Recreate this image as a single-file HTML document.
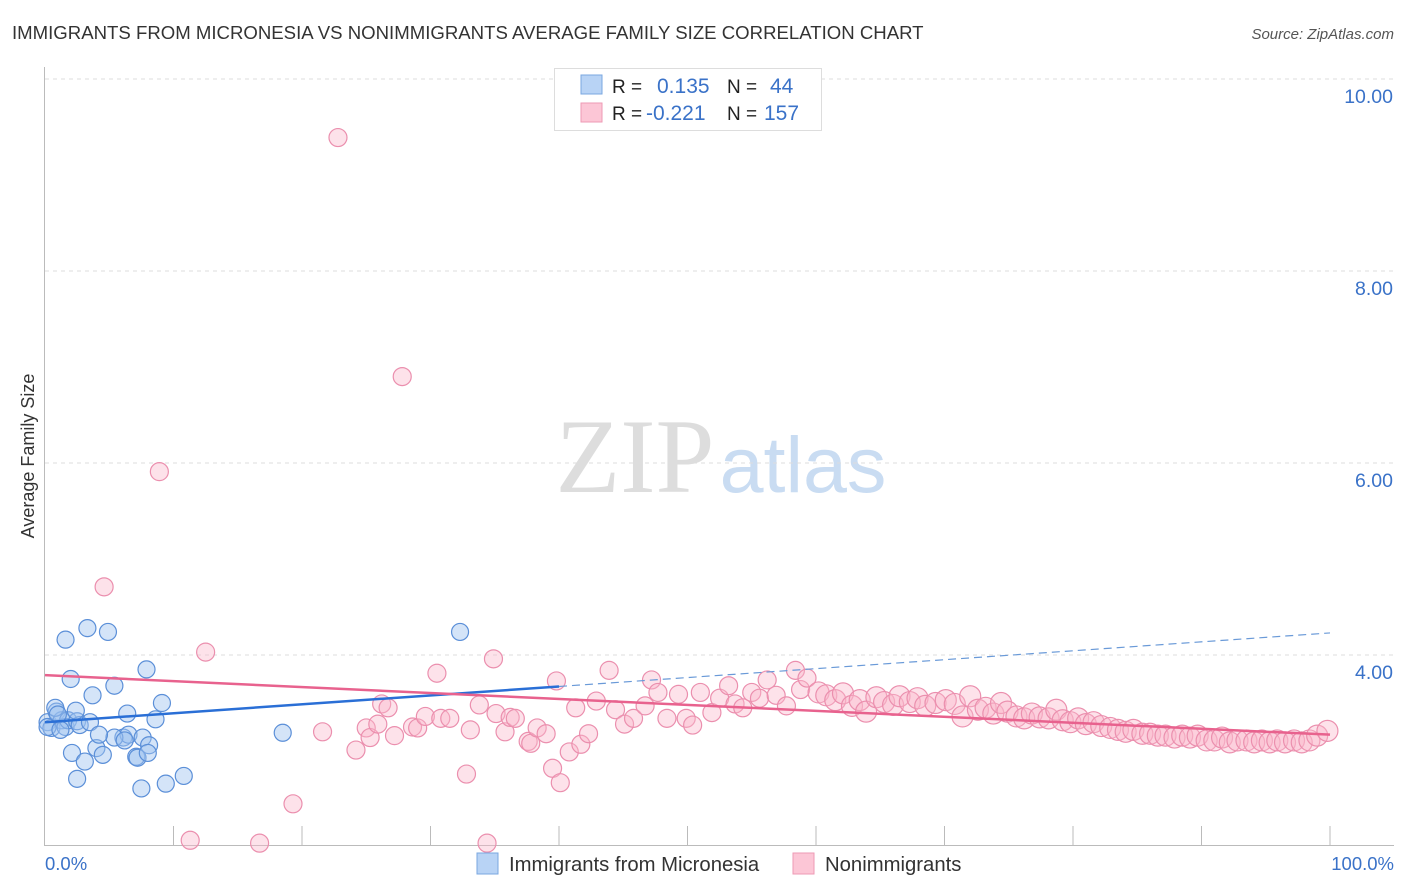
<!DOCTYPE html>
<html><head><meta charset="utf-8"><style>
body{margin:0;background:#fff;font-family:"Liberation Sans",sans-serif;}
svg{display:block}
</style></head><body>
<svg id="chart" width="1406" height="892">
<text x="12" y="39" font-size="18.6" fill="#333">IMMIGRANTS FROM MICRONESIA VS NONIMMIGRANTS AVERAGE FAMILY SIZE CORRELATION CHART</text>
<text x="1394" y="39" font-size="15" fill="#555" font-style="italic" text-anchor="end">Source: ZipAtlas.com</text>
<text x="34" y="456" font-size="18" fill="#333" text-anchor="middle" transform="rotate(-90 34 456)">Average Family Size</text>
<g><text x="635" y="492" font-size="106" fill="#ddd" font-family="Liberation Serif,serif" text-anchor="middle">ZIP</text><text x="803" y="492" font-size="79" fill="#c9dcf2" text-anchor="middle">atlas</text></g>
<g id="grid"></g><g id="axes"></g><g id="pts"></g><g id="lines"></g>
<g>
<rect x="554.5" y="68.5" width="267" height="62" fill="#fff" stroke="#ddd"/>
<rect x="581" y="75" width="21" height="19" fill="#b8d3f5" stroke="#7aa7e0"/>
<rect x="581" y="103" width="21" height="19" fill="#fcc6d6" stroke="#ee9ab4"/>
<text x="612" y="93" font-size="19" fill="#222">R =</text><text x="657" y="93" font-size="21" fill="#3a72c8">0.135</text>
<text x="727" y="93" font-size="19" fill="#222">N =</text><text x="770" y="93" font-size="21" fill="#3a72c8">44</text>
<text x="612" y="120" font-size="19" fill="#222">R =</text><text x="646" y="120" font-size="21" fill="#3a72c8">-0.221</text>
<text x="727" y="120" font-size="19" fill="#222">N =</text><text x="764" y="120" font-size="21" fill="#3a72c8">157</text>
</g>
<g>
<rect x="477" y="853" width="21" height="21" fill="#b8d3f5" stroke="#7aa7e0"/>
<text x="509" y="871" font-size="20.3" fill="#333">Immigrants from Micronesia</text>
<rect x="793" y="853" width="21" height="21" fill="#fcc6d6" stroke="#ee9ab4"/>
<text x="825" y="871" font-size="20.3" fill="#333">Nonimmigrants</text>
</g>
</svg>
<script>
const yTicks=[4,6,8,10];
const yTickLabels=["4.00","6.00","8.00","10.00"];
const xTickLabels=["0.0%","100.0%"];
const blueX=[0.2,0.5,0.9,1.3,1.6,1.8,0.8,2.5,2.7,3.5,1.0,1.6,3.3,4.9,2.0,3.7,5.4,6.4,8.6,9.1,7.9,2.4,2.1,3.1,2.5,4.0,4.5,6.1,6.5,5.4,7.6,8.1,7.1,7.2,8.0,7.5,9.4,10.8,18.5,32.3,0.2,1.2,4.2,6.2];
const blueY=[3.30,3.24,3.41,3.32,3.25,3.32,3.45,3.31,3.27,3.30,3.38,4.16,4.28,4.24,3.75,3.58,3.68,3.39,3.33,3.50,3.85,3.42,2.98,2.89,2.71,3.03,2.96,3.14,3.17,3.14,3.14,3.06,2.94,2.93,2.98,2.61,2.66,2.74,3.19,4.24,3.25,3.22,3.17,3.11];
const pinkX=[22.8,27.8,8.9,4.6,12.5,19.3,11.3,16.7,34.4,30.5,34.9,21.6,24.2,25.0,25.3,25.9,26.2,26.7,27.2,28.6,29.0,29.6,30.8,31.5,33.1,32.8,33.8,35.1,35.8,36.2,36.6,37.6,37.8,38.3,39.0,39.5,39.8,40.1,40.8,41.3,41.7,42.3,42.9,43.9,44.4,45.1,45.8,46.7,47.2,47.7,48.4,49.3,49.9,50.4,51.0,51.9,52.5,53.2,53.7,54.3,55.0,55.6,56.2,56.9,57.7,58.4,58.8,59.3,60.2,60.8,61.5,62.1,62.8,63.4,63.9,64.7,65.3,66.0,66.5,67.3,67.9,68.5,69.3,70.1,70.8,71.4,72.0,72.6,73.2,73.8,74.4,74.9,75.6,76.2,76.8,77.4,78.1,78.7,79.2,79.8,80.4,81.0,81.6,82.2,82.9,83.5,84.1,84.7,85.4,86.0,86.6,87.2,87.9,88.5,89.1,89.7,90.4,91.0,91.6,92.2,92.8,93.5,94.1,94.7,95.3,95.9,96.5,97.2,97.8,98.4,99.0,99.8];
const pinkY=[9.39,6.90,5.91,4.71,4.03,2.45,2.07,2.04,2.04,3.81,3.96,3.20,3.01,3.24,3.14,3.28,3.49,3.45,3.16,3.25,3.24,3.36,3.34,3.34,3.22,2.76,3.48,3.39,3.20,3.35,3.34,3.10,3.08,3.24,3.18,2.82,3.73,2.67,2.99,3.45,3.07,3.18,3.52,3.84,3.43,3.28,3.34,3.47,3.74,3.61,3.34,3.59,3.34,3.27,3.61,3.40,3.55,3.68,3.49,3.45,3.61,3.55,3.74,3.58,3.47,3.84,3.64,3.76,3.61,3.58,3.53,3.60,3.47,3.53,3.41,3.56,3.51,3.48,3.57,3.51,3.55,3.47,3.50,3.53,3.49,3.36,3.57,3.43,3.45,3.39,3.50,3.41,3.36,3.34,3.39,3.35,3.34,3.43,3.32,3.30,3.34,3.28,3.30,3.26,3.24,3.22,3.20,3.22,3.18,3.18,3.16,3.16,3.14,3.16,3.14,3.16,3.11,3.11,3.14,3.09,3.11,3.11,3.09,3.11,3.09,3.11,3.09,3.11,3.09,3.11,3.16,3.21];
const blueTrend=[3.30,4.23];
const pinkTrend=[3.79,3.17];
const NS="http://www.w3.org/2000/svg";
const X=v=>45+v*12.85, Y=v=>847-(v-2)*96;
function mk(tag,attrs,parent){const e=document.createElementNS(NS,tag);for(const k in attrs)e.setAttribute(k,attrs[k]);document.getElementById(parent).appendChild(e);return e;}
yTicks.forEach((t,i)=>{
 const g=mk('line',{x1:45,x2:1394,y1:Y(t),y2:Y(t),stroke:'#ddd','stroke-dasharray':'4 4'},'grid');
 
 
 const l=mk('text',{x:1393,y:Y(t)+24,'font-size':19.5,fill:'#3a72c8','text-anchor':'end'},'axes');l.textContent=yTickLabels[i];
 
 
});
mk('line',{x1:44.5,x2:44.5,y1:67,y2:846,stroke:'#bbb'},'axes');
mk('line',{x1:44,x2:1394,y1:845.5,y2:845.5,stroke:'#bbb'},'axes');
for(let i=1;i<=10;i++){const t=mk('line',{x1:X(i*10),x2:X(i*10),y1:826,y2:846,stroke:'#bbb'},'axes');
 
 }
const xl0=mk('text',{x:45,y:870,'font-size':18.5,fill:'#3a72c8'},'axes');xl0.textContent=xTickLabels[0];


const xl1=mk('text',{x:1394,y:870,'font-size':18.5,fill:'#3a72c8','text-anchor':'end'},'axes');xl1.textContent=xTickLabels[1];


pinkX.forEach((v,i)=>{const c=mk('circle',{cx:X(v),cy:Y(pinkY[i]),r:v>60?10.5:9,fill:'rgba(249,182,203,0.4)',stroke:'#eb8fae','stroke-width':1.2},'pts');
 
 });
blueX.forEach((v,i)=>{const c=mk('circle',{cx:X(v),cy:Y(blueY[i]),r:8.5,fill:'rgba(160,196,240,0.45)',stroke:'#5b8fd8','stroke-width':1.2},'pts');
 
 });
const bAt=x=>blueTrend[0]+(blueTrend[1]-blueTrend[0])*x/100;
const bd=mk('line',{x1:X(40),y1:Y(bAt(40)),x2:X(100),y2:Y(bAt(100)),stroke:'#6a9ad8','stroke-width':1.2,'stroke-dasharray':'8 5'},'lines');


const bl=mk('line',{x1:X(0),y1:Y(bAt(0)),x2:X(40),y2:Y(bAt(40)),stroke:'#2a6fd6','stroke-width':2.5},'lines');


const pl=mk('line',{x1:X(0),y1:Y(pinkTrend[0]),x2:X(100),y2:Y(pinkTrend[1]),stroke:'#e8628e','stroke-width':2.5},'lines');


</script>
</body></html>
